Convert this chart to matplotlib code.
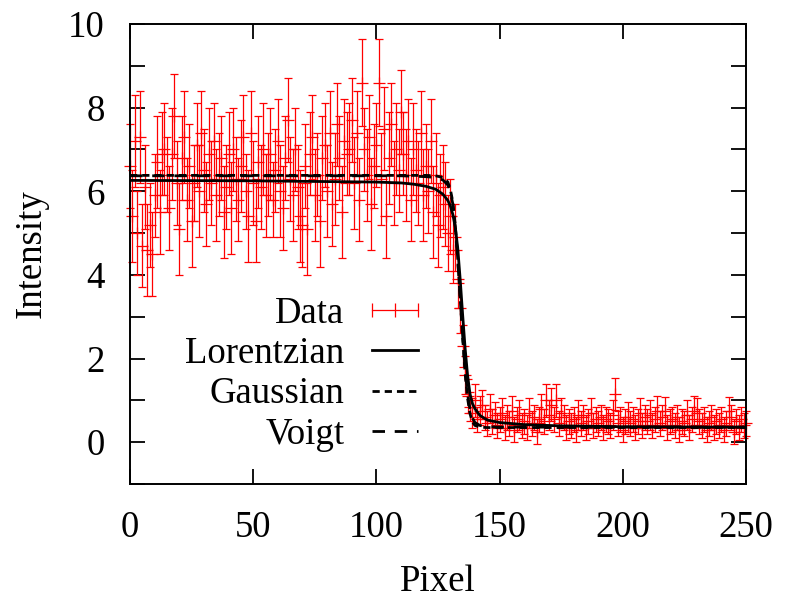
import numpy as np
import matplotlib
matplotlib.use("Agg")
import matplotlib.pyplot as plt
from matplotlib.lines import Line2D
from matplotlib.legend_handler import HandlerLine2D
from matplotlib.ticker import MultipleLocator

plt.rcParams['font.family'] = ['Liberation Serif', 'DejaVu Serif']
plt.rcParams['font.size'] = 26.5

pixel = list(range(0, 251))
intensity = [
    6.6, 5.4, 7.2, 5.0, 7.3, 4.7, 6.1, 4.6, 5.2, 4.5,
    5.9, 6.7, 5.5, 6.9, 7.0, 6.4, 5.6, 6.9, 7.8, 6.2,
    5.1, 6.8, 7.3, 5.8, 6.6, 5.3, 6.2, 7.1, 6.0, 7.4,
    6.5, 5.7, 6.9, 6.2, 7.2, 5.9, 6.4, 6.8, 5.5, 6.1,
    6.9, 5.6, 7.0, 6.3, 5.8, 6.6, 7.3, 6.0, 5.4, 7.4,
    6.2, 5.3, 6.7, 6.1, 7.0, 5.9, 6.4, 6.9, 5.8, 6.5,
    7.2, 6.0, 5.6, 6.8, 7.7, 6.3, 5.9, 7.0, 6.1, 5.4,
    5.2, 6.6, 5.1, 6.9, 7.3, 5.9, 6.4, 5.3, 6.8, 7.1,
    6.0, 7.4, 5.7, 6.3, 7.6, 6.8, 5.5, 7.2, 6.9, 7.0,
    7.7, 6.2, 7.4, 5.8, 8.6, 7.0, 6.4, 7.3, 5.7, 6.6,
    7.1, 8.6, 6.3, 7.5, 5.4, 6.8, 7.6, 6.2, 7.0, 6.5,
    7.9, 6.9, 6.4, 7.2, 5.8, 7.0, 6.5, 6.2, 7.4, 5.9,
    6.6, 6.0, 7.2, 5.5, 6.4, 5.2, 5.9,
    6.1, 5.7, 5.0, 5.4, 4.6, 4.9, 3.9, 3.2, 2.3, 1.6, 1.1,
    0.85, 0.7, 1.0, 0.55, 0.75, 0.9, 0.6, 0.45, 0.8, 0.5, 0.65, 0.4,
    0.55, 0.7, 0.35, 0.6, 0.45, 0.75, 0.3, 0.55, 0.65, 0.4,
    0.5, 0.35, 0.7, 0.45, 0.6, 0.25, 0.55, 0.8, 0.5, 1.0,
    0.65, 0.9, 0.55, 1.0, 0.45, 0.7, 0.6, 0.35, 0.5, 0.4,
    0.55, 0.3, 0.65, 0.45, 0.6, 0.35, 0.5, 0.7, 0.4, 0.55,
    0.45, 0.6, 0.35, 0.55, 0.5, 0.4, 0.65, 1.15, 0.45, 0.55,
    0.3, 0.5, 0.6, 0.45, 0.55, 0.35, 0.5, 0.7, 0.4, 0.6,
    0.5, 0.65, 0.4, 0.55, 0.75, 0.45, 0.6, 0.75, 0.35, 0.5,
    0.55, 0.4, 0.6, 0.3, 0.5, 0.45, 0.65, 0.35, 0.55, 0.75,
    0.7, 0.5, 0.4, 0.55, 0.3, 0.45, 0.6, 0.35, 0.5, 0.4,
    0.55, 0.3, 0.45, 0.75, 0.6, 0.25, 0.5, 0.35, 0.55, 0.4, 0.45,
]
intensity_err = [
    1.0, 1.1, 1.1, 1.0, 1.1, 1.0, 1.0, 1.1, 1.0, 1.0,
    1.0, 1.1, 1.0, 1.0, 1.1, 0.9, 1.0, 1.1, 1.0, 1.0,
    1.1, 1.0, 1.1, 1.0, 1.0, 1.1, 0.9, 1.0, 1.1, 1.0,
    1.0, 1.0, 1.1, 1.0, 0.9, 1.1, 1.0, 1.0, 1.1, 1.0,
    1.0, 1.1, 1.0, 1.0, 1.0, 1.1, 1.0, 0.9, 1.1, 1.0,
    1.0, 1.0, 1.1, 1.0, 1.1, 1.0, 1.0, 1.1, 0.9, 1.0,
    1.0, 1.1, 1.0, 1.0, 1.0, 1.0, 1.1, 1.0, 1.0, 1.1,
    1.0, 1.0, 1.1, 1.0, 1.0, 1.1, 1.0, 1.1, 1.0, 1.0,
    1.1, 1.0, 1.0, 1.1, 1.0, 1.0, 1.1, 1.0, 1.0, 1.1,
    1.0, 1.1, 1.0, 1.0, 1.05, 1.0, 1.1, 1.0, 1.1, 1.0,
    1.0, 1.05, 1.1, 1.0, 1.0, 1.1, 1.0, 1.0, 1.1, 1.0,
    1.0, 1.0, 1.1, 1.0, 1.0, 1.1, 1.0, 1.0, 1.0, 1.1,
    1.0, 1.0, 1.0, 1.1, 1.0, 1.0, 1.0,
    1.0, 1.0, 0.9, 0.9, 0.8, 0.8, 0.7, 0.6, 0.5, 0.45, 0.4,
    0.35, 0.35, 0.4, 0.3, 0.35, 0.35, 0.3, 0.3, 0.35, 0.3, 0.3, 0.3,
    0.3, 0.35, 0.3, 0.3, 0.3, 0.35, 0.3, 0.3, 0.35, 0.3,
    0.3, 0.3, 0.35, 0.3, 0.3, 0.3, 0.3, 0.35, 0.3, 0.4,
    0.35, 0.4, 0.3, 0.4, 0.3, 0.35, 0.3, 0.3, 0.3, 0.3,
    0.3, 0.3, 0.35, 0.3, 0.3, 0.3, 0.3, 0.35, 0.3, 0.3,
    0.3, 0.3, 0.3, 0.3, 0.3, 0.3, 0.35, 0.38, 0.3, 0.3,
    0.3, 0.3, 0.35, 0.3, 0.3, 0.3, 0.3, 0.35, 0.3, 0.3,
    0.3, 0.35, 0.3, 0.3, 0.35, 0.3, 0.3, 0.33, 0.3, 0.3,
    0.3, 0.3, 0.3, 0.3, 0.3, 0.3, 0.35, 0.3, 0.3, 0.35,
    0.35, 0.3, 0.3, 0.3, 0.3, 0.3, 0.3, 0.3, 0.3, 0.3,
    0.3, 0.3, 0.3, 0.33, 0.3, 0.3, 0.3, 0.3, 0.3, 0.3, 0.3,
]

# fitted edge profiles
fit_x = [0, 50, 100, 110, 115, 120, 124, 127, 129, 130, 131, 132, 133, 134,
         135, 136, 137, 138, 139, 140, 142, 145, 150, 160, 175, 200, 250]
lorentz_y = [6.26, 6.25, 6.22, 6.20, 6.17, 6.12, 6.05, 5.93, 5.78, 5.65, 5.45,
             5.15, 4.65, 3.90, 3.05, 2.25, 1.60, 1.15, 0.92, 0.80, 0.64, 0.53,
             0.47, 0.42, 0.39, 0.37, 0.36]
gauss_y = [6.38, 6.38, 6.38, 6.38, 6.38, 6.38, 6.37, 6.33, 6.22, 6.05, 5.75,
           5.20, 4.40, 3.45, 2.50, 1.65, 1.05, 0.68, 0.48, 0.40, 0.36, 0.35,
           0.35, 0.35, 0.35, 0.35, 0.35]
voigt_y = [6.37, 6.37, 6.37, 6.37, 6.36, 6.35, 6.33, 6.27, 6.15, 6.00, 5.70,
           5.15, 4.35, 3.45, 2.55, 1.75, 1.15, 0.78, 0.58, 0.47, 0.40, 0.37,
           0.36, 0.36, 0.36, 0.36, 0.36]

fig = plt.figure(figsize=(7.85, 6.06), dpi=100)
ax = fig.add_axes([0.1656, 0.2013, 0.7847, 0.7591])

eb = ax.errorbar(pixel, intensity, yerr=intensity_err, fmt='+', color='red',
                 ecolor='red', elinewidth=0.9, capsize=3, capthick=0.9,
                 markersize=8, markeredgewidth=0.9, zorder=2)
for art in eb.lines[1] + eb.lines[2] + (eb.lines[0],):
    art.set_clip_on(False)

ax.plot(fit_x, lorentz_y, color='black', lw=2.0, zorder=3)
ax.plot(fit_x, gauss_y, color='black', lw=2.0, dashes=(2.6, 1.8), zorder=3)
ax.plot(fit_x, voigt_y, color='black', lw=2.0, dashes=(4.5, 3.5), zorder=3)

ax.set_xlim(0, 250)
ax.set_ylim(-1, 10)
ax.set_xticks([0, 50, 100, 150, 200, 250])
ax.set_yticks([0, 2, 4, 6, 8, 10])
ax.yaxis.set_minor_locator(MultipleLocator(1))
ax.tick_params(which='both', direction='in', top=True, right=True,
               length=11, width=1.3)
ax.tick_params(axis='y', pad=18)
ax.tick_params(axis='x', pad=19)
for s in ax.spines.values():
    s.set_linewidth(1.4)

ax.set_xlabel('Pixel', labelpad=14)
ax.set_ylabel('Intensity', labelpad=14)

h_data = Line2D([0], [0], color='red', lw=0.9, marker='|', markersize=10,
                markeredgewidth=0.9)
h_lor = Line2D([0], [0], color='black', lw=2.0)
h_gau = Line2D([0], [0], color='black', lw=2.0, dashes=(2.6, 1.8))
h_voi = Line2D([0], [0], color='black', lw=2.0, dashes=(4.5, 3.5))
ax.legend([h_data, h_lor, h_gau, h_voi], ['Data', 'Lorentzian', 'Gaussian', 'Voigt'],
          handler_map={h_data: HandlerLine2D(numpoints=3, marker_pad=0)},
          loc='lower right', bbox_to_anchor=(0.4675, 0.07), frameon=False,
          markerfirst=False, handlelength=1.25, handletextpad=0.75,
          labelspacing=0.16, borderpad=0, borderaxespad=0)

fig.savefig('out.png', dpi=100)
